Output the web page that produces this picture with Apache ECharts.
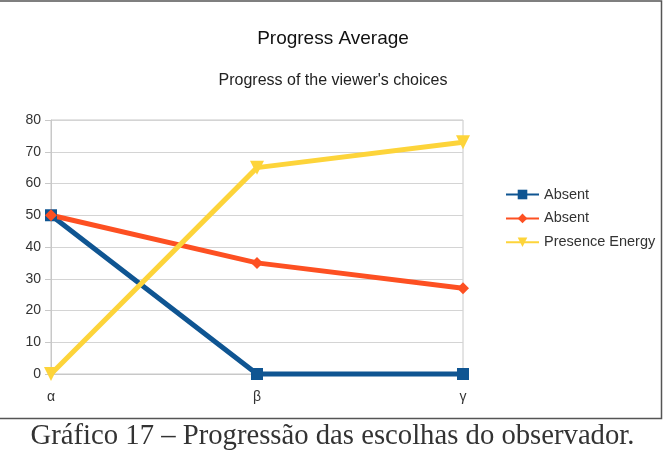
<!DOCTYPE html>
<html>
<head>
<meta charset="utf-8">
<script src="https://cdn.jsdelivr.net/npm/echarts@6/dist/echarts.min.js"></script>
<style>
  html, body { margin: 0; padding: 0; background: #fff; }
  #chart { width: 665px; height: 450px; }
</style>
</head>
<body>
<div id="chart"></div>
<script>
// categories and series values
var categories = ["α", "β", "γ"];
var absentBlue = [50, 0, 0];
var absentOrange = [50, 35, 27];
var presenceEnergy = [0, 65, 73];
var yTicks = { min: 0, max: 80, interval: 10 };

var chart = echarts.init(document.getElementById("chart"));

function lineSeries(name, data, color, symbol, size) {
  return {
    name: name,
    type: "line",
    data: data,
    symbol: symbol,
    symbolSize: size,
    clip: false,
    lineStyle: { width: 5, color: color },
    itemStyle: { color: color }
  };
}

chart.setOption({
  backgroundColor: "#fff",
  animation: false,
  textStyle: { fontFamily: "Liberation Sans, Arial, sans-serif" },
  title: [
    {
      text: "Progress Average",
      left: 328,
      textAlign: "center",
      top: 24,
      textStyle: { fontSize: 19, fontWeight: "normal", color: "#111" }
    },
    {
      text: "Progress of the viewer's choices",
      left: 328,
      textAlign: "center",
      top: 68,
      textStyle: { fontSize: 16, fontWeight: "normal", color: "#222" }
    }
  ],
  legend: {
    orient: "vertical",
    left: 500,
    top: 182,
    itemWidth: 33,
    itemHeight: 12,
    itemGap: 8.9,
    textStyle: { fontSize: 14.5, color: "#333", padding: [0, 0, 0, 0] },
    data: ["Absent", "Absent ", "Presence Energy"]
  },
  grid: {
    left: 51,
    right: 202,
    top: 120,
    bottom: 76,
    show: true,
    borderColor: "#c8c8c8",
    borderWidth: 1
  },
  xAxis: {
    type: "category",
    data: categories,
    boundaryGap: false,
    axisLine: { lineStyle: { color: "#c8c8c8" } },
    axisTick: { show: false },
    axisLabel: { fontSize: 14, color: "#333", margin: 16 }
  },
  yAxis: {
    type: "value",
    min: yTicks.min,
    max: yTicks.max,
    interval: yTicks.interval,
    axisLine: { show: true, lineStyle: { color: "#c8c8c8" } },
    axisTick: { show: true, length: 6, lineStyle: { color: "#c8c8c8" } },
    axisLabel: { fontSize: 14, color: "#333", margin: 10 },
    splitLine: { lineStyle: { color: "#d4d4d4" } }
  },
  series: [
    lineSeries("Absent", absentBlue, "#0f5592", "rect", 12),
    lineSeries("Absent ", absentOrange, "#fd5022", "diamond", 12),
    lineSeries("Presence Energy", presenceEnergy, "#fdd43a",
      "path://M0,0 L10,0 L5,9 Z", 14)
  ],
  graphic: [
    {
      type: "rect",
      shape: { x: -2, y: 1, width: 663.5, height: 417.5 },
      style: { fill: "none", stroke: "#555", lineWidth: 1.5 },
      silent: true
    },
    {
      type: "text",
      left: "center",
      top: 422,
      style: {
        text: "Gráfico 17 – Progressão das escolhas do observador.",
        fontFamily: "Liberation Serif, serif",
        fontSize: 28.7,
        fill: "#333"
      }
    }
  ]
});
</script>
</body>
</html>
